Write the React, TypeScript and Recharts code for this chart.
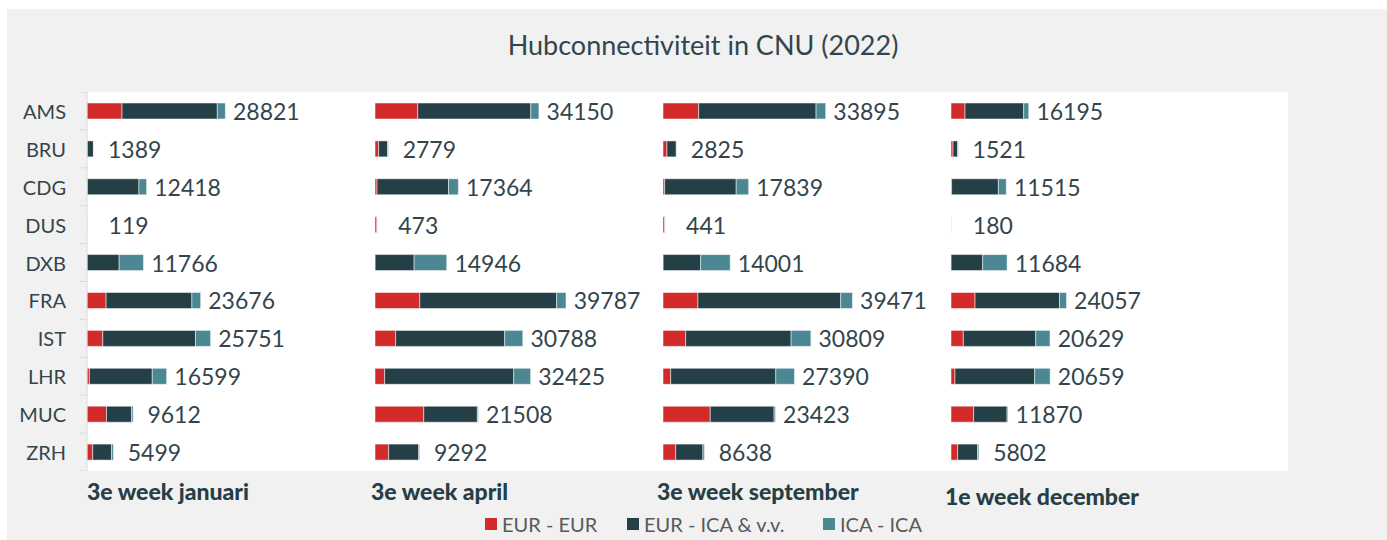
import React from 'react';
import { Bar, BarChart, LabelList, XAxis, YAxis } from 'recharts';

const hubs = ['AMS', 'BRU', 'CDG', 'DUS', 'DXB', 'FRA', 'IST', 'LHR', 'MUC', 'ZRH'];
const weekLabels = ['3e week januari', '3e week april', '3e week september', '1e week december'];
const seriesNames = ['EUR - EUR', 'EUR - ICA & v.v.', 'ICA - ICA'];

// 3e week januari
const janEurEur = [7300, 40, 60, 40, 20, 3980, 3290, 500, 4060, 1190];
const janEurIca = [19850, 1300, 10760, 50, 6680, 17870, 19310, 13100, 5230, 3910];
const janIcaIca = [1671, 49, 1598, 29, 5066, 1826, 3151, 2999, 322, 399];
const janTotal = [28821, 1389, 12418, 119, 11766, 23676, 25751, 16599, 9612, 5499];

// 3e week april
const aprEurEur = [8900, 750, 420, 420, 30, 9320, 4300, 2000, 10160, 2840];
const aprEurIca = [23560, 1880, 14900, 40, 8120, 28510, 22720, 26900, 11160, 6270];
const aprIcaIca = [1690, 149, 2044, 13, 6796, 1957, 3768, 3525, 188, 182];
const aprTotal = [34150, 2779, 17364, 473, 14946, 39787, 30788, 32425, 21508, 9292];

// 3e week september
const sepEurEur = [7430, 830, 350, 400, 30, 7280, 4720, 1600, 9840, 2640];
const sepEurIca = [24460, 1940, 14900, 30, 7810, 29740, 21970, 21900, 13310, 5680];
const sepIcaIca = [2005, 55, 2589, 11, 6161, 2451, 4119, 3890, 273, 318];
const sepTotal = [33895, 2825, 17839, 441, 14001, 39471, 30809, 27390, 23423, 8638];

// 1e week december
const decEurEur = [2920, 420, 130, 150, 20, 5010, 2570, 830, 4720, 1380];
const decEurIca = [12220, 960, 9740, 20, 6580, 17590, 15080, 16610, 6960, 4170];
const decIcaIca = [1055, 141, 1645, 10, 5084, 1457, 2979, 3219, 190, 252];
const decTotal = [16195, 1521, 11515, 180, 11684, 24057, 20629, 20659, 11870, 5802];

const COLORS = ['#d32a2a', '#253f47', '#4c8794'];
const TEXT = '#33454c';
const FONT = 'Lato, "Noto Sans", sans-serif';

const AXIS_W = 87;
const PANEL_W = 288;
const PLOT_TOP = 92;
const PLOT_H = 379;
const BAND = PLOT_H / hubs.length;

const buildRows = (a: number[], b: number[], c: number[], t: number[]) =>
  hubs.map((hub, i) => ({ hub, eurEur: a[i], eurIca: b[i], icaIca: c[i], total: t[i] }));

const panels = [
  buildRows(janEurEur, janEurIca, janIcaIca, janTotal),
  buildRows(aprEurEur, aprEurIca, aprIcaIca, aprTotal),
  buildRows(sepEurEur, sepEurIca, sepIcaIca, sepTotal),
  buildRows(decEurEur, decEurIca, decIcaIca, decTotal),
];

const weekLabelPos = [
  { left: 87, top: 477 },
  { left: 371, top: 477 },
  { left: 657, top: 477 },
  { left: 945, top: 482 },
];
const legendPos = [485, 627, 823];

const HubTick = (props: any) => {
  const { y, payload, index } = props;
  return (
    <g>
      <text
        x={AXIS_W - 21}
        y={y}
        textAnchor="end"
        dominantBaseline="central"
        fontSize={20}
        fontFamily={FONT}
        fill={TEXT}
      >
        {payload.value}
      </text>
      <line x1={AXIS_W - 7} x2={AXIS_W} y1={y - BAND / 2} y2={y - BAND / 2} stroke="#d9d9d9" />
      {index === hubs.length - 1 && (
        <line x1={AXIS_W - 7} x2={AXIS_W} y1={y + BAND / 2} y2={y + BAND / 2} stroke="#d9d9d9" />
      )}
    </g>
  );
};

const TotalLabel = (props: any) => {
  const vb = props.viewBox ?? props;
  const x = Number(vb.x ?? props.x);
  const w = Number(vb.width ?? props.width);
  const y = Number(vb.y ?? props.y);
  const h = Number(vb.height ?? props.height);
  return (
    <text
      x={x + w + 41}
      y={y + h / 2}
      textAnchor="middle"
      dominantBaseline="central"
      fontSize={23}
      fontFamily={FONT}
      fill={TEXT}
    >
      {props.value}
    </text>
  );
};

const Panel: React.FC<{ rows: any[]; withAxis: boolean }> = ({ rows, withAxis }) => (
  <BarChart
    layout="vertical"
    width={withAxis ? AXIS_W + PANEL_W : PANEL_W}
    height={PLOT_H}
    data={rows}
    margin={{ top: 0, right: 0, bottom: 0, left: 0 }}
    barCategoryGap="29%"
    style={{ overflow: 'visible' }}
  >
    <XAxis type="number" domain={[0, 60000]} hide />
    <YAxis
      type="category"
      dataKey="hub"
      width={withAxis ? AXIS_W : 0}
      hide={!withAxis}
      interval={0}
      axisLine={{ stroke: '#d9d9d9' }}
      tickLine={false}
      tick={HubTick}
    />
    <Bar dataKey="eurEur" stackId="s" fill={COLORS[0]} stroke="#ffffff" strokeWidth={0.5} isAnimationActive={false} />
    <Bar dataKey="eurIca" stackId="s" fill={COLORS[1]} stroke="#ffffff" strokeWidth={0.5} isAnimationActive={false} />
    <Bar dataKey="icaIca" stackId="s" fill={COLORS[2]} stroke="#ffffff" strokeWidth={0.5} isAnimationActive={false}>
      <LabelList dataKey="total" content={TotalLabel} />
    </Bar>
  </BarChart>
);

export default function App() {
  return (
    <div style={{ position: 'absolute', left: 0, top: 0, width: 1387, height: 540, background: '#ffffff', fontFamily: FONT }}>
      <div style={{ position: 'absolute', left: 7, top: 9, width: 1380, height: 531, background: '#f1f1f1' }} />
      <div
        style={{
          position: 'absolute',
          left: 403,
          width: 600,
          top: 28,
          textAlign: 'center',
          fontSize: 27,
          color: TEXT,
          whiteSpace: 'nowrap',
        }}
      >
        Hubconnectiviteit in CNU (2022)
      </div>
      <div style={{ position: 'absolute', left: AXIS_W, top: PLOT_TOP, width: 1201, height: PLOT_H, background: '#ffffff' }} />
      {panels.map((rows, k) => (
        <div
          key={k}
          style={{ position: 'absolute', top: PLOT_TOP, left: k === 0 ? 0 : AXIS_W + PANEL_W * k }}
        >
          <Panel rows={rows} withAxis={k === 0} />
        </div>
      ))}
      {weekLabels.map((w, k) => (
        <div
          key={w}
          style={{
            position: 'absolute',
            left: weekLabelPos[k].left,
            top: weekLabelPos[k].top,
            fontSize: 23,
            fontWeight: 900,
            color: '#263f47',
            whiteSpace: 'nowrap',
            lineHeight: '28px',
          }}
        >
          {w}
        </div>
      ))}
      {seriesNames.map((s, i) => (
        <div
          key={s}
          style={{
            position: 'absolute',
            left: legendPos[i],
            top: 512,
            display: 'flex',
            alignItems: 'center',
            fontSize: 20,
            color: '#595959',
            whiteSpace: 'nowrap',
          }}
        >
          <span style={{ display: 'inline-block', width: 12, height: 12, background: COLORS[i], marginRight: 5 }} />
          <span>{s}</span>
        </div>
      ))}
    </div>
  );
}
